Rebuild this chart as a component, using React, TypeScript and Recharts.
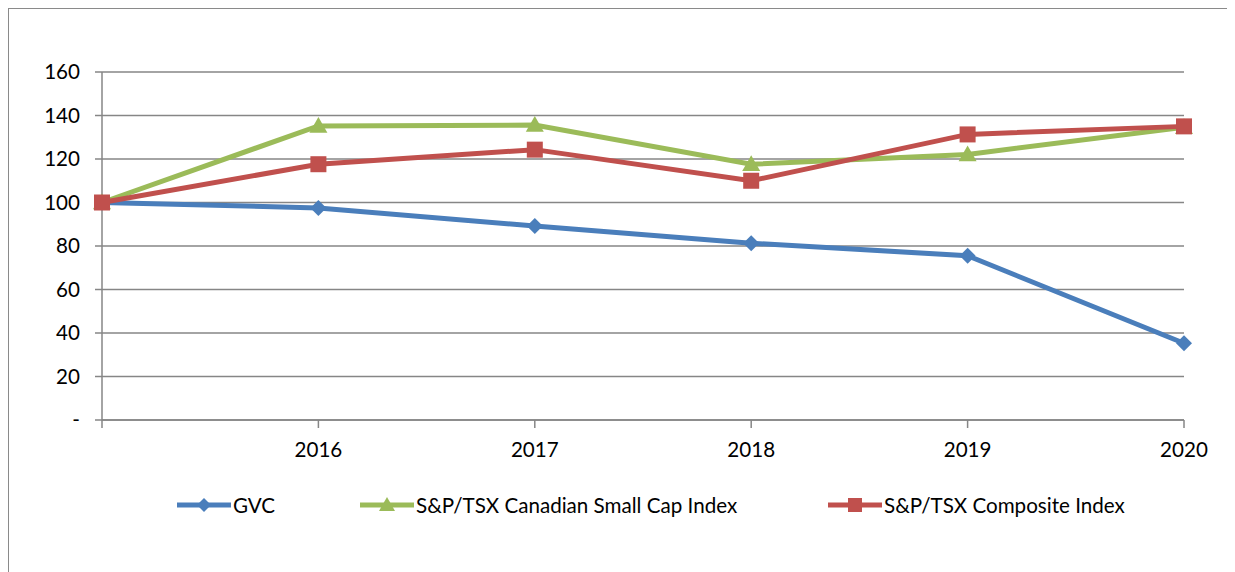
import React from "react";
import { CartesianGrid, Line, LineChart, XAxis, YAxis } from "recharts";

const years = ["", "2016", "2017", "2018", "2019", "2020"];
const gvc = [100, 97.5, 89.2, 81.3, 75.5, 35.3];
const smallCap = [100, 135.2, 135.6, 117.6, 122.1, 134.6];
const composite = [100, 117.6, 124.3, 110, 131.3, 135];
const yTicks = [0, 20, 40, 60, 80, 100, 120, 140, 160];

const BLUE = "#4A7EBB";
const GREEN = "#9BBB59";
const RED = "#C0504D";
const FONT = "Lato, 'Open Sans', sans-serif";

const series = [
  { key: "gvc", name: "GVC", color: BLUE, shape: "diamond", left: 168 },
  { key: "smallCap", name: "S&P/TSX Canadian Small Cap Index", color: GREEN, shape: "triangle", left: 351 },
  { key: "composite", name: "S&P/TSX Composite Index", color: RED, shape: "square", left: 819 },
];

const data = years.map((year, i) => ({
  year,
  gvc: gvc[i],
  smallCap: smallCap[i],
  composite: composite[i],
}));

const Marker = ({ cx, cy, shape, color, size = 8 }: any) => {
  if (cx == null || cy == null) return null;
  if (shape === "diamond") {
    const r = size;
    return <path d={`M${cx},${cy - r}L${cx + r},${cy}L${cx},${cy + r}L${cx - r},${cy}Z`} fill={color} />;
  }
  if (shape === "triangle") {
    const r = size + 1;
    return <path d={`M${cx},${cy - r}L${cx + r},${cy + r * 0.75}L${cx - r},${cy + r * 0.75}Z`} fill={color} />;
  }
  const s = size;
  return <rect x={cx - s} y={cy - s} width={s * 2} height={s * 2} fill={color} />;
};

const renderDot = (shape: string, color: string) => (props: any) =>
  <Marker key={`${shape}-${props.index}`} cx={props.cx} cy={props.cy} shape={shape} color={color} />;

// legend drawn as an overlay so it doesn't eat into the plot area
const ChartLegend = () => (
  <>
    {series.map(s => (
      <div
        key={s.key}
        style={{
          position: "absolute",
          left: s.left,
          top: 484,
          display: "flex",
          alignItems: "center",
          fontFamily: FONT,
          fontSize: 20.6,
          color: "#000",
          whiteSpace: "nowrap",
        }}
      >
        <svg width={54} height={20}>
          <line x1={0} y1={10} x2={54} y2={10} stroke={s.color} strokeWidth={5} />
          <Marker cx={27} cy={10} shape={s.shape} color={s.color} size={7} />
        </svg>
        <span style={{ marginLeft: 2 }}>{s.name}</span>
      </div>
    ))}
  </>
);

export default function App() {
  return (
    <div style={{ position: "relative", width: 1219, height: 600, border: "1px solid #8a8a8a", background: "#fff" }}>
      <LineChart width={1219} height={600} data={data} margin={{ top: 63, right: 44, left: 0, bottom: 149 }}>
        <CartesianGrid horizontal vertical={false} stroke="#868686" strokeWidth={1.5} />
        <XAxis
          dataKey="year"
          axisLine={{ stroke: "#868686", strokeWidth: 1.5 }}
          tickLine={{ stroke: "#868686", strokeWidth: 1.5 }}
          tickSize={8}
          tickMargin={14}
          height={40}
          interval={0}
          tick={{ fill: "#000", fontSize: 20.6, fontFamily: FONT }}
        />
        <YAxis
          domain={[0, 160]}
          ticks={yTicks}
          width={93}
          axisLine={{ stroke: "#868686", strokeWidth: 1.5 }}
          tickLine={{ stroke: "#868686", strokeWidth: 1.5 }}
          tickSize={7}
          tickMargin={15}
          tickFormatter={(v: number) => (v === 0 ? "-" : String(v))}
          tick={{ fill: "#000", fontSize: 20.6, fontFamily: FONT }}
        />
        {series.map(s => (
          <Line
            key={s.key}
            dataKey={s.key}
            name={s.name}
            type="linear"
            stroke={s.color}
            strokeWidth={5}
            dot={renderDot(s.shape, s.color)}
            activeDot={false}
            isAnimationActive={false}
          />
        ))}
      </LineChart>
      <ChartLegend />
    </div>
  );
}
